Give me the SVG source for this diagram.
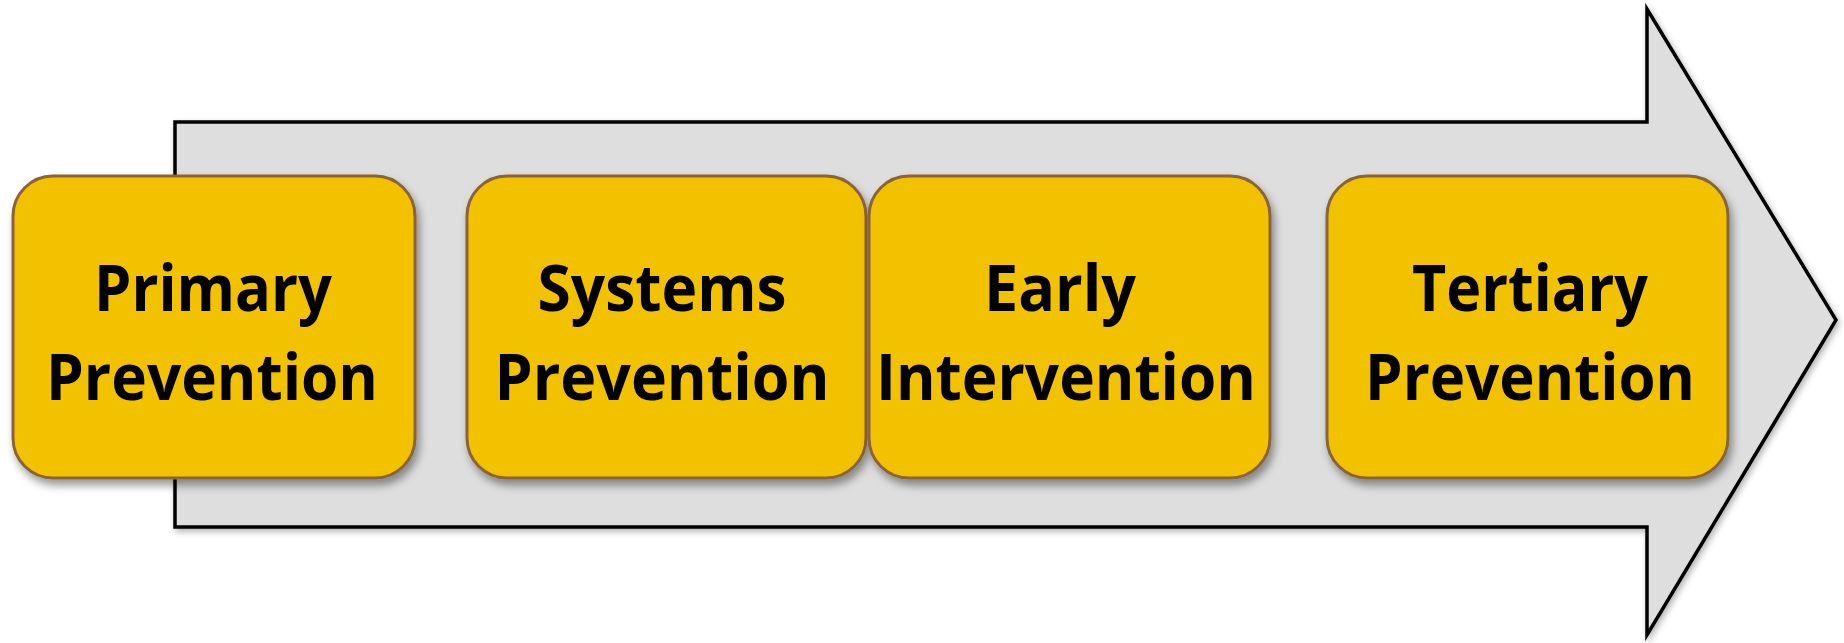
<svg xmlns="http://www.w3.org/2000/svg" width="1844" height="643" viewBox="0 0 1844 643">
<style>
.box{fill:#F2C200;stroke:#8A6339;stroke-width:3;filter:url(#sh)}
.lbl{font-family:"Open Sans","Liberation Sans",sans-serif;font-weight:bold;font-size:64px;fill:#000;text-anchor:middle}
.arrow{fill:#DEDEDE;stroke:#000;stroke-width:3.5;stroke-linejoin:miter;filter:url(#sh2)}
</style>
<defs>
<filter id="sh" x="-10%" y="-10%" width="125%" height="130%">
<feDropShadow dx="3" dy="6" stdDeviation="4" flood-color="#000" flood-opacity="0.4"/>
</filter>
<filter id="sh2" x="-5%" y="-5%" width="110%" height="115%">
<feDropShadow dx="2" dy="3" stdDeviation="3" flood-color="#000" flood-opacity="0.3"/>
</filter>
</defs>
<rect width="1844" height="643" fill="#fff"/>
<g id="connectors">
<path class="arrow" d="M175,122 L1647,122 L1647,9 L1836,320 L1647,635 L1647,527 L175,527 Z"/>
</g>
<g id="node-primary">
<rect class="box" x="13" y="176" width="402" height="302" rx="40"/>
<text class="lbl" x="213" y="311" textLength="238" lengthAdjust="spacingAndGlyphs">Primary</text>
<text class="lbl" x="212" y="400" textLength="332" lengthAdjust="spacingAndGlyphs">Prevention</text>
</g>
<g id="node-systems">
<rect class="box" x="467" y="176" width="399" height="302" rx="40"/>
<text class="lbl" x="662" y="311" textLength="249" lengthAdjust="spacingAndGlyphs">Systems</text>
<text class="lbl" x="662" y="400" textLength="335" lengthAdjust="spacingAndGlyphs">Prevention</text>
</g>
<g id="node-early">
<rect class="box" x="869" y="176" width="401" height="302" rx="40"/>
<text class="lbl" x="1060" y="311" textLength="152" lengthAdjust="spacingAndGlyphs">Early</text>
<text class="lbl" x="1066" y="400" textLength="380" lengthAdjust="spacingAndGlyphs">Intervention</text>
</g>
<g id="node-tertiary">
<rect class="box" x="1327" y="176" width="401" height="302" rx="40"/>
<text class="lbl" x="1530" y="311" textLength="236" lengthAdjust="spacingAndGlyphs">Tertiary</text>
<text class="lbl" x="1530" y="400" textLength="330" lengthAdjust="spacingAndGlyphs">Prevention</text>
</g>
</svg>
